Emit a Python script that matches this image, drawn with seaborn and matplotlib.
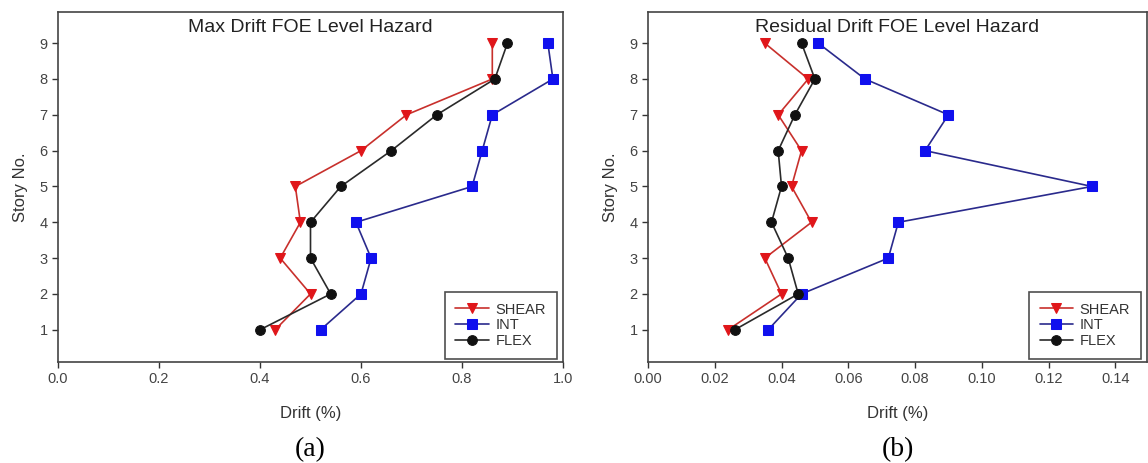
import matplotlib
matplotlib.use("Agg")
import matplotlib.pyplot as plt
import seaborn as sns
import pandas as pd

stories = [1, 2, 3, 4, 5, 6, 7, 8, 9]

max_shear = [0.43, 0.50, 0.44, 0.48, 0.47, 0.60, 0.69, 0.86, 0.86]
max_int = [0.52, 0.60, 0.62, 0.59, 0.82, 0.84, 0.86, 0.98, 0.97]
max_flex = [0.40, 0.54, 0.50, 0.50, 0.56, 0.66, 0.75, 0.865, 0.89]

res_shear = [0.024, 0.040, 0.035, 0.049, 0.043, 0.046, 0.039, 0.048, 0.035]
res_int = [0.036, 0.046, 0.072, 0.075, 0.133, 0.083, 0.090, 0.065, 0.051]
res_flex = [0.026, 0.045, 0.042, 0.037, 0.040, 0.039, 0.044, 0.050, 0.046]

series_names = ["SHEAR", "INT", "FLEX"]
titles = ["Max Drift FOE Level Hazard", "Residual Drift FOE Level Hazard"]
captions = ["(a)", "(b)"]
xticks_a = [0.0, 0.2, 0.4, 0.6, 0.8, 1.0]
xticks_b = [0.00, 0.02, 0.04, 0.06, 0.08, 0.10, 0.12, 0.14]

sns.set_style("ticks")
plt.rcParams["font.family"] = ["Liberation Sans", "DejaVu Sans"]

styles = {
    "SHEAR": dict(marker="v", line="#c8302c", face="#e0161a", ms=7.5),
    "INT": dict(marker="s", line="#2a2a8c", face="#1010ee", ms=6.5),
    "FLEX": dict(marker="o", line="#2a2a2a", face="#111111", ms=7),
}

fig = plt.figure(figsize=(11.48, 4.63), dpi=100)
ax1 = fig.add_axes([58 / 1148, 1 - 362 / 463, (563 - 58) / 1148, 350 / 463])
ax2 = fig.add_axes([648 / 1148, 1 - 362 / 463, (1147 - 648) / 1148, 350 / 463])

datasets = [
    {"SHEAR": max_shear, "INT": max_int, "FLEX": max_flex},
    {"SHEAR": res_shear, "INT": res_int, "FLEX": res_flex},
]

for ax, data, title, xt, cap in zip([ax1, ax2], datasets, titles,
                                    [xticks_a, xticks_b], captions):
    for name in series_names:
        st = styles[name]
        df = pd.DataFrame({"drift": data[name], "story": stories})
        sns.lineplot(data=df, x="drift", y="story", orient="y",
                     estimator=None, errorbar=None, ax=ax,
                     color=st["line"], marker=st["marker"],
                     markersize=st["ms"], markerfacecolor=st["face"],
                     markeredgecolor=st["face"], linewidth=1.2,
                     label=name)
    ax.set_xlim(xt[0], xt[-1] + (0.0 if ax is ax1 else 0.0095))
    ax.set_ylim(0.1, 9.87)
    ax.set_xticks(xt)
    if ax is ax1:
        ax.set_xticklabels([f"{v:.1f}" for v in xt])
    else:
        ax.set_xticklabels([f"{v:.2f}" for v in xt])
    ax.set_yticks(stories)
    ax.tick_params(direction="out", length=4, width=1, colors="#333333",
                   labelsize=10.5, labelcolor="#444444")
    for s in ax.spines.values():
        s.set_visible(True)
        s.set_color("#444444")
        s.set_linewidth(1.2)
    ax.set_xlabel("Drift (%)", fontsize=12, color="#333333", labelpad=14)
    ax.set_ylabel("Story No.", fontsize=12, color="#333333", labelpad=8)
    ax.text(0.5, 0.957, title, transform=ax.transAxes, ha="center",
            va="center", fontsize=14, color="#222222")
    leg = ax.legend(loc="lower right", frameon=True, fancybox=False,
                    edgecolor="#222222", fontsize=10.5,
                    bbox_to_anchor=(1 - 6 / 505, 3 / 350),
                    borderaxespad=0, handlelength=2.3, labelspacing=0.12,
                    borderpad=0.75, handletextpad=0.45)
    leg.get_frame().set_linewidth(1.2)
    for t in leg.get_texts():
        t.set_color("#333333")
    ax.text(0.5, -0.251, cap, transform=ax.transAxes, ha="center",
            va="center", fontsize=20,
            family=["Liberation Serif", "DejaVu Serif"], color="black")

fig.savefig("out.png", dpi=100)
